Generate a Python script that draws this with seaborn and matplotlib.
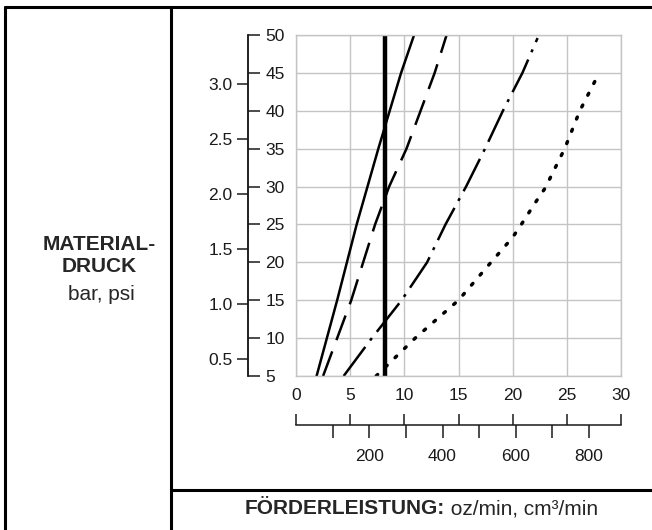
import pandas as pd
import seaborn as sns
import matplotlib.pyplot as plt
from matplotlib.lines import Line2D
from matplotlib.ticker import FormatStrFormatter

# Kennlinien: Förderleistung (oz/min) gegen Materialdruck (psi)
kurve_a_oz = [1.9, 3.8, 5.6, 7.6, 9.7, 10.9]
kurve_a_psi = [5, 15, 25, 35, 45, 50]
kurve_b_oz = [2.5, 3.8, 5.1, 6.2, 7.3, 8.6, 10.2, 11.5, 12.8, 13.9]
kurve_b_psi = [5, 10, 15, 20, 25, 30, 35, 40, 45, 50]
kurve_c_oz = [4.4, 7.0, 9.75, 12.1, 13.8, 15.7, 17.45, 19.1, 20.9, 22.3]
kurve_c_psi = [5, 10, 15, 20, 25, 30, 35, 40, 45, 49.6]
kurve_d_oz = [7.4, 11.0, 15.0, 18.0, 20.0, 20.8, 22.1, 23.0, 24.8, 26.2, 27.7]
kurve_d_psi = [5, 10, 15, 20, 23.3, 25, 27.9, 29.8, 35, 40, 44.2]
grenze_oz = [8.2, 8.2]
grenze_psi = [5, 50]

oz_ticks = [0, 5, 10, 15, 20, 25, 30]
psi_ticks = [5, 10, 15, 20, 25, 30, 35, 40, 45, 50]
bar_ticks = [0.5, 1.0, 1.5, 2.0, 2.5, 3.0]
cm3_major = [200, 400, 600, 800]
cm3_minor = [100, 300, 500, 700]

OZ_CM3 = 29.5735
PSI_BAR = 14.5038

sns.set_style("white")
plt.rcParams['font.family'] = ['Liberation Sans', 'DejaVu Sans']

W, H = 652, 530


def fx(px):
    return px / W


def fy(py):
    return 1 - py / H


fig = plt.figure(figsize=(6.52, 5.30), dpi=100)
grau = '#c4c4c4'
dunkel = '#1a1a1a'
fs_tick = 12.5
fs_titel = 15

# Diagramm mit Raster
ax = fig.add_axes([fx(296), fy(376), fx(621) - fx(296), fy(35) - fy(376)])
kurven = [
    (kurve_a_oz, kurve_a_psi, '-', 1.8, 'butt'),
    (kurve_b_oz, kurve_b_psi, (0, (10.5, 4.8)), 1.8, 'butt'),
    (kurve_c_oz, kurve_c_psi, (0, (14.5, 3.2, 1.2, 3.2)), 1.8, 'butt'),
    (kurve_d_oz, kurve_d_psi, (0, (0.6, 3.2)), 2.5, 'round'),
    (grenze_oz, grenze_psi, '-', 3.2, 'butt'),
]
for xs, ys, ls, lw, cap in kurven:
    sns.lineplot(x=xs, y=ys, ax=ax, color='black', linewidth=lw, linestyle=ls,
                 estimator=None, sort=False)
    ax.lines[-1].set_dash_capstyle(cap)

ax.set_xlim(0, 30)
ax.set_ylim(5, 50)
ax.set_xticks(oz_ticks)
ax.set_yticks(psi_ticks)
ax.grid(True, color=grau, lw=1.0)
ax.tick_params(axis='both', length=0, labelleft=False, labelsize=fs_tick, colors=dunkel)
ax.tick_params(axis='x', pad=9)
for s in ax.spines.values():
    s.set_color(grau)
    s.set_linewidth(1.0)
ax.set_xlabel('')
ax.set_ylabel('')

# Druckskala psi / bar
ax_psi = fig.add_axes([fx(248), fy(376), 0.0001, fy(35) - fy(376)])
ax_psi.patch.set_visible(False)
ax_psi.set_ylim(5, 50)
ax_psi.set_xticks([])
for s in ['top', 'bottom', 'left']:
    ax_psi.spines[s].set_visible(False)
ax_psi.spines['right'].set_linewidth(1.1)
ax_psi.spines['right'].set_color(dunkel)
ax_psi.yaxis.tick_right()
ax_psi.set_yticks(psi_ticks)
ax_psi.tick_params(axis='y', direction='out', length=8.6, width=1.1, pad=4,
                   labelsize=fs_tick, colors=dunkel)
sec_y = ax_psi.secondary_yaxis('left', functions=(lambda p: p / PSI_BAR,
                                                  lambda b: b * PSI_BAR))
sec_y.set_yticks(bar_ticks)
sec_y.yaxis.set_major_formatter(FormatStrFormatter('%.1f'))
sec_y.spines['left'].set_linewidth(1.1)
sec_y.spines['left'].set_color(dunkel)
sec_y.tick_params(length=8, width=1.1, pad=3, labelsize=fs_tick, colors=dunkel)

# Förderskala oz / cm3
ax_low = fig.add_axes([fx(296), fy(425), fx(621) - fx(296), 0.0001])
ax_low.patch.set_visible(False)
ax_low.set_xlim(0, 30)
ax_low.set_yticks([])
for s in ['left', 'right', 'bottom']:
    ax_low.spines[s].set_visible(False)
ax_low.spines['top'].set_linewidth(1.1)
ax_low.spines['top'].set_color(dunkel)
ax_low.set_xticks(oz_ticks)
ax_low.tick_params(axis='x', top=True, labeltop=False, bottom=False, labelbottom=False,
                   direction='out', length=8, width=1.1, colors=dunkel)
sec_x = ax_low.secondary_xaxis('bottom', functions=(lambda o: o * OZ_CM3,
                                                    lambda c: c / OZ_CM3))
sec_x.set_xticks(cm3_major)
sec_x.set_xticks(cm3_minor, minor=True)
sec_x.spines['bottom'].set_visible(False)
sec_x.tick_params(which='both', length=9.5, width=1.1, pad=8, labelsize=fs_tick,
                  colors=dunkel)

# Rahmen
rahmen = [
    ([fx(5), 1], [fy(7), fy(7)]),
    ([fx(5), fx(5)], [fy(7), 0]),
    ([fx(171), fx(171)], [fy(7), 0]),
    ([fx(171), 1], [fy(490), fy(490)]),
]
for xs, ys in rahmen:
    fig.add_artist(Line2D(xs, ys, transform=fig.transFigure, color='black', lw=2.2))

fig.text(fx(99), fy(255), 'MATERIAL-\nDRUCK', ha='center', va='center',
         fontsize=fs_titel, weight='bold', linespacing=1.2)
fig.text(fx(101), fy(294), 'bar, psi', ha='center', va='center', fontsize=fs_titel)
t1 = fig.text(fx(245), fy(509), 'FÖRDERLEISTUNG:', ha='left', va='center',
              fontsize=fs_titel, weight='bold')
ax.annotate(' oz/min, cm³/min', xy=(1, 0), xycoords=t1, ha='left', va='bottom',
            fontsize=fs_titel, annotation_clip=False)

fig.savefig('out.png', dpi=100)
